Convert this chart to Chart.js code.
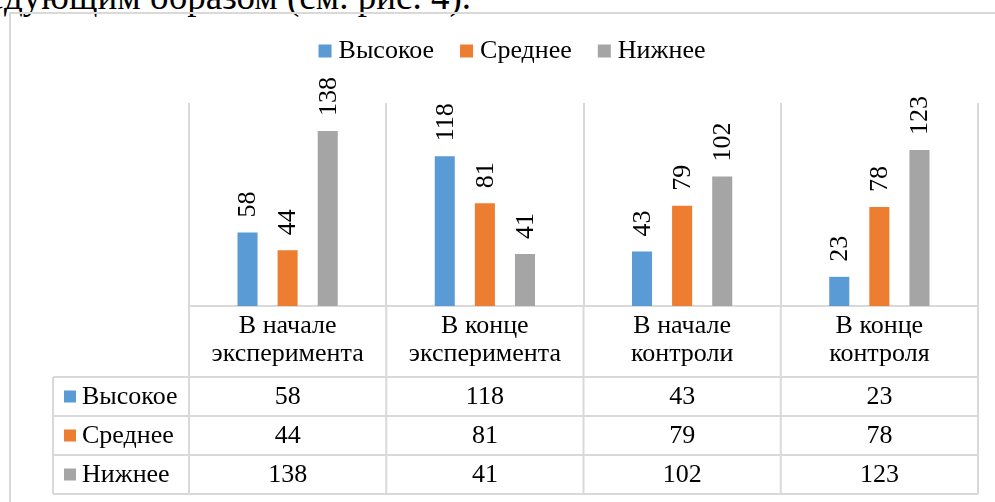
<!DOCTYPE html>
<html>
<head>
<meta charset="utf-8">
<script src="https://cdn.jsdelivr.net/npm/chart.js@4.4.0/dist/chart.umd.min.js"></script>
<style>
  html, body { margin: 0; padding: 0; background: #fff; overflow: hidden; }
  #page { position: relative; width: 995px; height: 502px; overflow: hidden; }
  #caption { position: absolute; right: 524px; top: -22px; font-family: "Liberation Serif", serif; font-size: 37px; line-height: 37px; white-space: nowrap; color: #000; }
  #frame { position: absolute; left: 9px; top: 12px; width: 1100px; height: 600px; border-left: 2px solid #d9d9d9; border-top: 2px solid #d9d9d9; }
  canvas { position: absolute; left: 0; top: 0; }
</style>
</head>
<body>
<div id="page">
  <div id="caption">следующим образом (см. рис. 4).</div>
  <div id="frame"></div>
  <canvas id="chart" width="995" height="502"></canvas>
</div>
<script>
// data
const categories = [['В начале', 'эксперимента'], ['В конце', 'эксперимента'], ['В начале', 'контроли'], ['В конце', 'контроля']];
const seriesNames = ['Высокое', 'Среднее', 'Нижнее'];
const highValues = [58, 118, 43, 23];
const midValues = [44, 81, 79, 78];
const lowValues = [138, 41, 102, 123];
const colors = ['#5B9BD5', '#ED7D31', '#A5A5A5'];

const FONT = '"Liberation Serif", "Times New Roman", serif';
const FONT_SIZE = 26;
const GRID = '#d9d9d9';

window.addEventListener('load', function () {
const ctx = document.getElementById('chart').getContext('2d');

// rotated value labels over the bars
const barLabels = {
    id: 'barLabels',
    afterDatasetsDraw(chart) {
        const c = chart.ctx;
        c.save();
        c.font = FONT_SIZE + 'px ' + FONT;
        c.fillStyle = '#000';
        c.textAlign = 'left';
        c.textBaseline = 'middle';
        chart.data.datasets.forEach((ds, i) => {
            chart.getDatasetMeta(i).data.forEach((bar, j) => {
                c.save();
                c.translate(bar.x + 1, bar.y - 15);
                c.rotate(-Math.PI / 2);
                c.fillText(String(ds.data[j]), 0, 0);
                c.restore();
            });
        });
        c.restore();
    }
};

// legend on top + data table under the axis
const tableAndLegend = {
    id: 'tableAndLegend',
    afterDraw(chart) {
        const c = chart.ctx;
        const x = chart.scales.x;
        const area = chart.chartArea;
        const half = (x.getPixelForValue(1) - x.getPixelForValue(0)) / 2;
        const sets = chart.data.datasets;

        c.save();
        c.font = FONT_SIZE + 'px ' + FONT;

        // legend
        const gap = 26, box = 13, boxGap = 7;
        const widths = sets.map(ds => box + boxGap + c.measureText(ds.label).width);
        const total = widths.reduce((a, b) => a + b, 0) + gap * (sets.length - 1);
        let lx = 512 - total / 2;
        const ly = 51;
        c.textBaseline = 'middle';
        c.textAlign = 'left';
        sets.forEach((ds, i) => {
            c.fillStyle = ds.backgroundColor;
            c.fillRect(lx, ly - box / 2, box, box);
            c.fillStyle = '#000';
            c.fillText(ds.label, lx + box + boxGap, ly);
            lx += widths[i] + gap;
        });

        // table grid
        const top = area.bottom + 71, rowH = 39, left = 53;
        const bottom = top + rowH * sets.length;
        c.strokeStyle = GRID;
        c.lineWidth = 2;
        c.beginPath();
        for (let i = 0; i <= categories.length; i++) {
            const px = x.getPixelForValue(0) - half + i * half * 2;
            c.moveTo(px, area.bottom);
            c.lineTo(px, bottom);
        }
        c.moveTo(left, top);
        c.lineTo(left, bottom);
        for (let r = 0; r <= sets.length; r++) {
            c.moveTo(left, top + r * rowH);
            c.lineTo(area.right, top + r * rowH);
        }
        c.stroke();

        // table text
        sets.forEach((ds, r) => {
            const cy = top + r * rowH + rowH / 2;
            c.fillStyle = ds.backgroundColor;
            c.fillRect(left + 11, cy - 6, 12, 12);
            c.fillStyle = '#000';
            c.textAlign = 'left';
            c.fillText(ds.label, left + 29, cy + 1);
            c.textAlign = 'center';
            ds.data.forEach((v, j) => {
                c.fillText(String(v), x.getPixelForValue(j), cy + 1);
            });
        });
        c.restore();
    }
};

new Chart(ctx, {
    type: 'bar',
    data: {
        labels: categories,
        datasets: [
            { label: seriesNames[0], data: highValues, backgroundColor: colors[0] },
            { label: seriesNames[1], data: midValues, backgroundColor: colors[1] },
            { label: seriesNames[2], data: lowValues, backgroundColor: colors[2] }
        ]
    },
    options: {
        responsive: false,
        animation: false,
        categoryPercentage: 0.61,
        barPercentage: 0.5,
        layout: { padding: { left: 189, right: 17, top: 103, bottom: 0 } },
        scales: {
            x: {
                afterFit: s => { s.height = 196; },
                grid: { color: GRID, lineWidth: 2, drawTicks: false },
                border: { color: GRID, width: 2 },
                ticks: {
                    color: '#000',
                    font: { family: FONT, size: FONT_SIZE, lineHeight: 1.08 },
                    padding: 6,
                    maxRotation: 0,
                    autoSkip: false
                }
            },
            y: { display: false, min: 0, max: 160 }
        },
        plugins: {
            legend: { display: false },
            tooltip: { enabled: false }
        }
    },
    plugins: [barLabels, tableAndLegend]
});
});
</script>
</body>
</html>
